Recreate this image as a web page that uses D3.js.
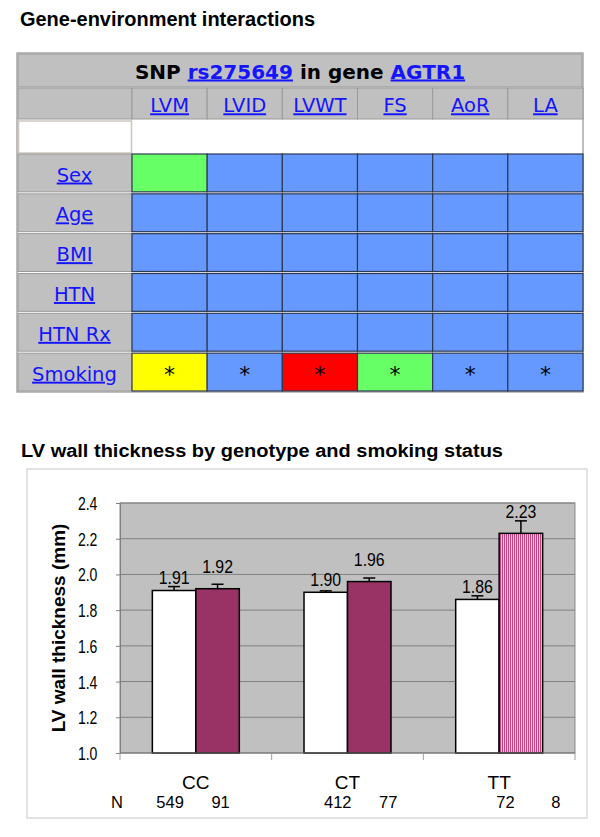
<!DOCTYPE html>
<html>
<head>
<meta charset="utf-8">
<script src="https://cdn.jsdelivr.net/npm/d3@7"></script>
<style>
body { margin: 0; background: #fff; }
svg { display: block; }
.tbl { font-family: "DejaVu Sans", Verdana, sans-serif; }
.chart { font-family: "Liberation Sans", Arial, sans-serif; }
.link { fill: #1414ff; text-decoration: underline; }
</style>
</head>
<body>
<div id="fig"></div>
<script>
// ---- table data ----
var measures = ["LVM", "LVID", "LVWT", "FS", "AoR", "LA"];
var covariates = ["Sex", "Age", "BMI", "HTN", "HTN Rx", "Smoking"];
// result code per covariate x measure (0 = none, 1 = green, 2 = yellow, 3 = red)
var cellCodes = [
    [1, 0, 0, 0, 0, 0],
    [0, 0, 0, 0, 0, 0],
    [0, 0, 0, 0, 0, 0],
    [0, 0, 0, 0, 0, 0],
    [0, 0, 0, 0, 0, 0],
    [2, 0, 3, 1, 0, 0]
];
var cellStars = [
    [0, 0, 0, 0, 0, 0],
    [0, 0, 0, 0, 0, 0],
    [0, 0, 0, 0, 0, 0],
    [0, 0, 0, 0, 0, 0],
    [0, 0, 0, 0, 0, 0],
    [1, 1, 1, 1, 1, 1]
];

// ---- bar chart data ----
var genotypes = ["CC", "CT", "TT"];
var groups = ["Non-smoker", "Smoker"];
var nonSmoker = [1.91, 1.90, 1.86];
var smoker = [1.92, 1.96, 2.23];
var nonSmokerErr = [0.022, 0.008, 0.02];
var smokerErr = [0.025, 0.02, 0.07];
var nonSmokerN = [549, 412, 72];
var smokerN = [91, 77, 8];
var yTicks = [1.0, 1.2, 1.4, 1.6, 1.8, 2.0, 2.2, 2.4];

var width = 600, height = 837;
var svg = d3.select("#fig").append("svg")
    .attr("width", width)
    .attr("height", height);

var defs = svg.append("defs");
var pat = defs.append("pattern")
    .attr("id", "stripes")
    .attr("patternUnits", "userSpaceOnUse")
    .attr("width", 2).attr("height", 4);
pat.append("rect").attr("width", 2).attr("height", 4).attr("fill", "#f3cfe0");
pat.append("rect").attr("width", 1).attr("height", 4).attr("fill", "#c4437f");

// page title
svg.append("text")
    .attr("x", 20).attr("y", 26)
    .attr("font-family", "Liberation Sans, Arial, sans-serif")
    .attr("font-weight", "bold")
    .attr("font-size", 20)
    .attr("textLength", 295)
    .attr("lengthAdjust", "spacingAndGlyphs")
    .text("Gene-environment interactions");

// ================= table =================
var tbl = { left: 17, right: 583, top: 53, bottom: 392 }, labelW = 115;
var xCol = d3.scaleBand().domain(measures).range([tbl.left + labelW, tbl.right]);
var yRow = d3.scaleBand().domain(covariates).range([154, 391]).paddingInner(0.05);
var cellColor = d3.scaleOrdinal().domain([0, 1, 2, 3])
    .range(["#6699ff", "#66ff66", "#ffff00", "#ff0000"]);

var t = svg.append("g").attr("class", "tbl");

t.append("rect")
    .attr("x", tbl.left).attr("y", tbl.top)
    .attr("width", tbl.right - tbl.left).attr("height", tbl.bottom - tbl.top)
    .attr("fill", "#fff").attr("stroke", "#a8a8a8").attr("stroke-width", 1.5);

// header row
t.append("rect")
    .attr("x", tbl.left + 1).attr("y", tbl.top + 1)
    .attr("width", tbl.right - tbl.left - 2).attr("height", 33)
    .attr("fill", "#c0c0c0").attr("stroke", "#9a9a9a");

var head = t.append("text")
    .attr("x", (tbl.left + tbl.right) / 2).attr("y", 78.5)
    .attr("text-anchor", "middle")
    .attr("font-weight", "bold")
    .attr("font-size", 20);
head.append("tspan").text("SNP ");
head.append("tspan").attr("class", "link").text("rs275649");
head.append("tspan").text(" in gene ");
head.append("tspan").attr("class", "link").text("AGTR1");

// column header row
t.append("rect")
    .attr("x", tbl.left + 1).attr("y", 88)
    .attr("width", labelW - 1).attr("height", 31)
    .attr("fill", "#c0c0c0").attr("stroke", "#9a9a9a");
t.selectAll(".colhead")
    .data(measures).enter().append("rect")
    .attr("x", d => xCol(d)).attr("y", 88)
    .attr("width", xCol.bandwidth()).attr("height", 31)
    .attr("fill", "#c0c0c0").attr("stroke", "#9a9a9a");
t.selectAll(".collabel")
    .data(measures).enter().append("text")
    .attr("class", "link")
    .attr("x", d => xCol(d) + xCol.bandwidth() / 2).attr("y", 112.3)
    .attr("text-anchor", "middle")
    .attr("font-size", 19.5)
    .text(d => d);

// blank white row
t.append("rect")
    .attr("x", tbl.left + 1.5).attr("y", 121)
    .attr("width", labelW - 2).attr("height", 32)
    .attr("fill", "#fff").attr("stroke", "#cdc6bd").attr("stroke-width", 1.5);

// covariate rows
var rows = t.selectAll(".row")
    .data(covariates).enter().append("g")
    .attr("transform", d => "translate(0," + yRow(d) + ")");

rows.append("rect")
    .attr("x", tbl.left + 1).attr("y", 0)
    .attr("width", labelW - 1).attr("height", yRow.bandwidth())
    .attr("fill", "#c0c0c0").attr("stroke", "#9a9a9a");
rows.append("text")
    .attr("class", "link")
    .attr("x", tbl.left + labelW / 2).attr("y", yRow.bandwidth() / 2 + 8.6)
    .attr("text-anchor", "middle")
    .attr("font-size", 19.5)
    .text(d => d);

rows.each(function (cov, i) {
    var g = d3.select(this);
    var cells = measures.map((m, j) => ({ m: m, code: cellCodes[i][j], star: cellStars[i][j] }));
    g.selectAll("rect.cell")
        .data(cells).enter().append("rect")
        .attr("class", "cell")
        .attr("x", d => xCol(d.m)).attr("y", 0)
        .attr("width", xCol.bandwidth()).attr("height", yRow.bandwidth())
        .attr("fill", d => cellColor(d.code))
        .attr("stroke", "#2e3a52").attr("stroke-width", 1.2);
    g.selectAll("text.star")
        .data(cells.filter(d => d.star)).enter().append("text")
        .attr("class", "star")
        .attr("x", d => xCol(d.m) + xCol.bandwidth() / 2)
        .attr("y", yRow.bandwidth() / 2 + 10)
        .attr("text-anchor", "middle")
        .attr("font-size", 22)
        .text("*");
});

// ================= bar chart =================
var frame = { left: 27, top: 469, right: 587, bottom: 818 };
var plot = { left: 120, top: 503, right: 575, bottom: 753 };

svg.append("text")
    .attr("x", 21).attr("y", 457)
    .attr("font-family", "Liberation Sans, Arial, sans-serif")
    .attr("font-weight", "bold")
    .attr("font-size", 18)
    .attr("textLength", 482)
    .attr("lengthAdjust", "spacingAndGlyphs")
    .text("LV wall thickness by genotype and smoking status");

var c = svg.append("g").attr("class", "chart");

c.append("rect")
    .attr("x", frame.left).attr("y", frame.top)
    .attr("width", frame.right - frame.left).attr("height", frame.bottom - frame.top)
    .attr("fill", "#fff").attr("stroke", "#c8c8c8");

var y = d3.scaleLinear().domain([1.0, 2.4]).range([plot.bottom, plot.top]);
var x0 = d3.scaleBand().domain(genotypes).range([plot.left, plot.right]);
var x1 = d3.scaleBand().domain(groups).range([0, x0.bandwidth()]).paddingOuter(0.744);

c.append("rect")
    .attr("x", plot.left).attr("y", plot.top)
    .attr("width", plot.right - plot.left).attr("height", plot.bottom - plot.top)
    .attr("fill", "#c0c0c0").attr("stroke", "#8c8c8c");

c.selectAll(".grid")
    .data(yTicks.slice(1)).enter().append("line")
    .attr("x1", plot.left).attr("x2", plot.right)
    .attr("y1", d => y(d)).attr("y2", d => y(d))
    .attr("stroke", "#808080");

// y axis
var yAxis = c.append("g")
    .attr("transform", "translate(" + plot.left + ",0)")
    .call(d3.axisLeft(y).tickValues(yTicks).tickSize(4).tickFormat(d3.format(".1f")));
yAxis.select(".domain").attr("stroke", "#808080");
yAxis.selectAll(".tick line").attr("stroke", "#808080");
yAxis.selectAll(".tick text")
    .attr("x", -29)
    .attr("dy", "0.36em")
    .attr("transform", "scale(0.78,1)")
    .attr("font-family", "Liberation Sans, Arial, sans-serif")
    .attr("font-size", 18)
    .attr("fill", "#000");

c.append("text")
    .attr("transform", "translate(65," + (plot.top + plot.bottom) / 2 + ") rotate(-90)")
    .attr("text-anchor", "middle")
    .attr("font-weight", "bold")
    .attr("font-size", 19)
    .text("LV wall thickness (mm)");

// bars
var barData = [];
genotypes.forEach(function (g, i) {
    barData.push({ g: g, s: groups[0], v: nonSmoker[i], e: nonSmokerErr[i], n: nonSmokerN[i], i: i });
    barData.push({ g: g, s: groups[1], v: smoker[i], e: smokerErr[i], n: smokerN[i], i: i });
});
var fillFor = function (d) {
    if (d.s === groups[0]) return "#ffffff";
    return d.g === "TT" ? "url(#stripes)" : "#993366";
};
var bx = d => x0(d.g) + x1(d.s);

// error bars (upper only)
var eb = c.selectAll(".err").data(barData).enter().append("g").attr("stroke", "#000").attr("stroke-width", 1.5);
eb.append("line")
    .attr("x1", d => bx(d) + x1.bandwidth() / 2).attr("x2", d => bx(d) + x1.bandwidth() / 2)
    .attr("y1", d => y(d.v)).attr("y2", d => y(d.v + d.e));
eb.append("line")
    .attr("x1", d => bx(d) + x1.bandwidth() / 2 - 6).attr("x2", d => bx(d) + x1.bandwidth() / 2 + 6)
    .attr("y1", d => y(d.v + d.e)).attr("y2", d => y(d.v + d.e));

c.selectAll(".bar").data(barData).enter().append("rect")
    .attr("x", d => bx(d)).attr("y", d => y(d.v))
    .attr("width", x1.bandwidth()).attr("height", d => y(1.0) - y(d.v))
    .attr("fill", fillFor)
    .attr("stroke", "#000").attr("stroke-width", 1.5);

// value labels
c.selectAll(".val").data(barData).enter().append("text")
    .attr("transform", d => "translate(" + (bx(d) + x1.bandwidth() / 2) + "," +
        (y(d.v) - (d.s === groups[0] ? 6.5 : 15.5)) + ") scale(0.88,1)")
    .attr("text-anchor", "middle")
    .attr("font-size", 18)
    .text(d => d3.format(".2f")(d.v));

// x axis
c.append("line")
    .attr("x1", plot.left).attr("x2", plot.right)
    .attr("y1", plot.bottom).attr("y2", plot.bottom)
    .attr("stroke", "#707070").attr("stroke-width", 1.2);
var bounds = genotypes.map(g => x0(g)).concat([plot.right]);
c.selectAll(".xtick").data(bounds).enter().append("line")
    .attr("x1", d => d).attr("x2", d => d)
    .attr("y1", plot.bottom).attr("y2", plot.bottom + 7)
    .attr("stroke", "#a0a0a0");

c.selectAll(".cat").data(genotypes).enter().append("text")
    .attr("x", d => x0(d) + x0.bandwidth() / 2).attr("y", 789)
    .attr("text-anchor", "middle")
    .attr("font-size", 19)
    .text(d => d);

// N row
c.append("text")
    .attr("x", 117).attr("y", 808)
    .attr("text-anchor", "middle")
    .attr("font-size", 16.5)
    .text("N");
c.selectAll(".n").data(barData).enter().append("text")
    .attr("x", d => bx(d) + x1.bandwidth() / 2 + (d.s === groups[0] ? -4 : 3) + d.i * 16)
    .attr("y", 808)
    .attr("text-anchor", "middle")
    .attr("font-size", 16.5)
    .text(d => d.n);
</script>
</body>
</html>
